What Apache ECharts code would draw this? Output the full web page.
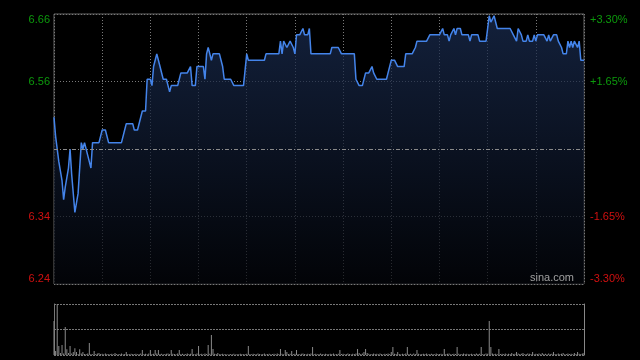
<!DOCTYPE html>
<html>
<head>
<meta charset="utf-8">
<script src="https://cdn.jsdelivr.net/npm/echarts@6/dist/echarts.min.js"></script>
<style>
html,body{margin:0;padding:0;background:#000;}
#c{width:640px;height:360px;}
</style>
</head>
<body>
<div id="c"></div>
<script>
// previous close
var prevClose = 6.45;
// minute index 0..330 (HK session 09:30-12:00, 13:00-16:00)
var prices = [
6.50,6.47,6.45,6.43,6.43,6.40,6.37,6.39,6.39,6.42,
6.45,6.41,6.41,6.35,6.35,6.38,6.38,6.46,6.45,6.46,
6.46,6.44,6.44,6.42,6.46,6.46,6.46,6.46,6.46,6.46,
6.48,6.48,6.48,6.48,6.46,6.46,6.46,6.46,6.46,6.46,
6.46,6.46,6.46,6.46,6.48,6.49,6.49,6.49,6.49,6.49,
6.48,6.48,6.48,6.48,6.50,6.51,6.51,6.51,6.56,6.56,
6.56,6.55,6.58,6.59,6.60,6.59,6.58,6.58,6.56,6.56,
6.56,6.55,6.54,6.55,6.55,6.55,6.55,6.55,6.56,6.57,
6.57,6.57,6.57,6.57,6.57,6.58,6.55,6.55,6.55,6.58,
6.58,6.58,6.58,6.58,6.56,6.60,6.61,6.61,6.59,6.60,
6.60,6.60,6.60,6.60,6.60,6.58,6.56,6.56,6.56,6.56,
6.56,6.56,6.55,6.55,6.55,6.55,6.55,6.55,6.55,6.55,
6.60,6.59,6.59,6.59,6.59,6.59,6.59,6.59,6.59,6.59,
6.59,6.59,6.60,6.60,6.60,6.60,6.60,6.60,6.60,6.60,
6.60,6.62,6.60,6.62,6.62,6.61,6.61,6.62,6.62,6.61,
6.60,6.63,6.63,6.63,6.63,6.64,6.63,6.63,6.63,6.64,
6.60,6.60,6.60,6.60,6.60,6.60,6.60,6.60,6.60,6.60,
6.60,6.60,6.60,6.61,6.61,6.61,6.61,6.61,6.61,6.60,
6.60,6.60,6.60,6.60,6.60,6.60,6.60,6.60,6.56,6.56,
6.55,6.55,6.55,6.56,6.57,6.57,6.57,6.57,6.58,6.57,
6.57,6.56,6.56,6.56,6.56,6.56,6.56,6.56,6.57,6.57,
6.59,6.59,6.59,6.59,6.58,6.58,6.58,6.58,6.58,6.60,
6.60,6.60,6.60,6.60,6.60,6.61,6.62,6.62,6.62,6.62,
6.62,6.62,6.62,6.62,6.63,6.63,6.63,6.63,6.63,6.63,
6.63,6.63,6.64,6.63,6.63,6.63,6.62,6.63,6.63,6.64,
6.63,6.64,6.64,6.64,6.63,6.63,6.63,6.63,6.63,6.62,
6.63,6.63,6.63,6.63,6.63,6.62,6.62,6.62,6.62,6.62,
6.64,6.66,6.65,6.65,6.66,6.66,6.64,6.64,6.64,6.64,
6.64,6.64,6.64,6.64,6.64,6.64,6.63,6.63,6.62,6.64,
6.64,6.63,6.62,6.62,6.62,6.63,6.62,6.62,6.62,6.63,
6.62,6.63,6.63,6.63,6.63,6.63,6.63,6.62,6.63,6.62,
6.62,6.63,6.63,6.63,6.62,6.62,6.61,6.60,6.60,6.60,
6.62,6.61,6.62,6.61,6.62,6.62,6.61,6.62,6.59,6.59,
6.59
];
var volumes = [
340,40,510,90,20,100,15,280,57,20,
90,15,30,67,30,10,57,15,30,10,
10,15,120,10,8,40,10,15,20,10,
12,8,15,10,8,10,12,8,20,10,
8,10,15,8,10,30,10,8,12,10,
10,12,8,10,15,50,10,12,8,15,
50,10,12,50,15,50,10,12,8,10,
12,15,10,50,12,10,8,15,50,10,
12,8,10,15,10,12,60,10,8,15,
90,10,12,8,15,10,100,12,200,60,
12,10,20,8,10,12,8,10,6,8,
10,8,12,6,10,8,12,10,8,10,
12,90,10,8,12,10,8,15,10,8,
10,15,8,10,12,8,10,12,8,15,
10,60,12,8,50,30,10,12,40,10,
12,50,10,8,12,15,10,8,12,10,
15,80,10,12,8,10,15,10,8,12,
10,8,12,10,15,8,10,12,50,10,
12,8,10,15,10,8,12,10,15,60,
20,10,15,30,60,20,12,8,10,15,
10,12,8,15,10,8,12,10,15,10,
30,80,12,10,30,10,8,12,10,15,
80,10,12,8,15,10,50,12,8,10,
12,10,15,8,10,12,10,8,15,10,
10,12,8,60,10,12,15,8,10,12,
10,80,12,8,10,15,10,12,8,10,
12,8,10,15,10,12,80,10,8,15,
12,340,80,15,10,12,8,60,10,12,
10,15,8,12,10,20,10,12,30,15,
10,12,20,8,10,15,12,10,30,8,
12,10,15,8,20,10,12,8,15,10,
12,30,10,8,15,10,12,20,8,10,
15,10,12,8,20,10,30,12,10,15,
20
];
var priceTicks = ['6.24','6.34','','6.56','6.66'];
var pctTicks = ['-3.30%','-1.65%','','+1.65%','+3.30%'];

var FONT = '"Liberation Sans", Arial, sans-serif';
var chart = echarts.init(document.getElementById('c'), null, {renderer:'canvas'});
var priceData = prices.map(function(p,i){return [i,p];});
var volData = volumes.map(function(v,i){return [i,v];});

chart.setOption({
  backgroundColor:'#000',
  animation:false,
  title:{text:'sina.com', right:66, top:272, padding:0,
    textStyle:{color:'#a0a0a0', fontSize:11, fontWeight:'normal', fontFamily:FONT}},
  grid:[
    {left:54, right:56, top:14, height:270, show:true, borderColor:'#666', borderWidth:1, backgroundColor:'transparent'},
    {left:54, right:56, top:304, height:51}
  ],
  xAxis:[
    {gridIndex:0, type:'value', min:0, max:330, interval:30,
     axisLine:{show:false}, axisTick:{show:false}, axisLabel:{show:false},
     splitLine:{show:true, lineStyle:{color:'#7a7a7a', type:[1,2], width:1}}},
    {gridIndex:1, type:'value', min:0, max:330, interval:30,
     axisLine:{show:false}, axisTick:{show:false}, axisLabel:{show:false},
     splitLine:{show:false}}
  ],
  yAxis:[
    {gridIndex:0, type:'value', min:prevClose*0.967, max:prevClose*1.033, show:false, splitLine:{show:false}},
    {gridIndex:0, type:'value', position:'left', min:-3.3, max:3.3, interval:1.65,
     axisLine:{show:false}, axisTick:{show:false},
     axisLabel:{show:true, margin:4, fontSize:11, fontFamily:FONT,
       formatter:function(v,i){return priceTicks[i];},
       color:function(v,i){return v>0.01?'#0c9a0c':'#d01010';},
       verticalAlignMinLabel:'bottom', verticalAlignMaxLabel:'top'},
     splitLine:{show:true, lineStyle:{color:['#7a7a7a','#7a7a7a','rgba(0,0,0,0)','#7a7a7a','#7a7a7a'], type:[1,2], width:1}}},
    {gridIndex:0, type:'value', position:'right', min:-3.3, max:3.3, interval:1.65,
     axisLine:{show:false}, axisTick:{show:false},
     axisLabel:{show:true, margin:6, fontSize:11, fontFamily:FONT,
       formatter:function(v,i){return pctTicks[i];},
       color:function(v,i){return v>0.01?'#0c9a0c':'#d01010';},
       verticalAlignMinLabel:'bottom', verticalAlignMaxLabel:'top'},
     splitLine:{show:false}},
    {gridIndex:1, type:'value', position:'left', min:0, max:510, interval:255,
     axisLine:{show:true, lineStyle:{color:'#777'}}, axisTick:{show:false}, axisLabel:{show:false},
     splitLine:{show:true, lineStyle:{color:'#777', type:[2,1], width:1}}},
    {gridIndex:1, type:'value', position:'right', min:0, max:510,
     axisLine:{show:true, lineStyle:{color:'#888'}}, axisTick:{show:false}, axisLabel:{show:false},
     splitLine:{show:false}}
  ],
  series:[
    {type:'line', xAxisIndex:0, yAxisIndex:0, data:priceData, symbol:'none', silent:true,
     lineStyle:{color:'#4484ea', width:1.5},
     areaStyle:{color:new echarts.graphic.LinearGradient(0,0,0,1,[
       {offset:0, color:'#1b2e54'},{offset:1, color:'#03050a'}]), origin:'start'},
     markLine:{silent:true, symbol:'none', label:{show:false},
       lineStyle:{color:'#8a8a8a', type:[4,2,1,2], width:1},
       data:[{yAxis:prevClose}]}},
    {type:'bar', xAxisIndex:1, yAxisIndex:3, data:volData, barWidth:1, silent:true,
     itemStyle:{color:'#8a8a8a'}}
  ]
});
</script>
</body>
</html>
